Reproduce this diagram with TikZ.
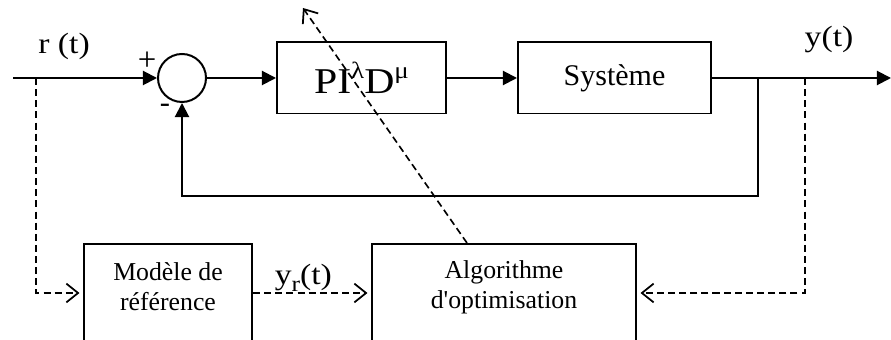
\documentclass[tikz,border=0pt]{standalone}
\usepackage{fontspec}
\setmainfont{Liberation Serif}
\newfontfamily\widefont[FakeStretch=1.15]{Liberation Serif}
\usetikzlibrary{arrows.meta,positioning}
\newcommand{\hi}[1]{\raisebox{0.42em}{\fontsize{20}{20}\selectfont #1}}
\newcommand{\lo}[1]{\raisebox{-0.22em}{\fontsize{19}{19}\selectfont #1}}

\begin{document}
\begin{tikzpicture}[
  blk/.style={draw,line width=1.7pt,minimum height=2.13cm,inner sep=2pt,align=center},
  bot/.style={draw,line width=1.7pt,minimum height=2.94cm,inner sep=0pt},
  sig/.style={line width=1.7pt,-{Triangle[length=12pt,width=12pt]}},
  dsh/.style={line width=1.4pt,dash pattern=on 6pt off 3.5pt,shorten >=3pt,-{Straight Barb[length=10pt,width=16pt,line width=1.5pt]}},
  lbl/.style={font=\widefont\fontsize{25}{29}\selectfont,inner sep=0pt},
  inl/.style={align=center,font=\fontsize{22}{25.6}\selectfont,yshift=0.18cm}]
\clip (0,0) rectangle (26.73,-10.2);
\node[draw,circle,line width=1.7pt,minimum size=1.44cm,inner sep=0pt] (sum) at (5.46,-2.34) {};
\node[blk,minimum width=5.07cm,font=\widefont\fontsize{31}{36}\selectfont] (pid) at (10.845,-2.34) {PI\hi{λ}D\hi{μ}};
\node[blk,minimum width=5.79cm,font=\fontsize{25.6}{30}\selectfont] (sys) at (18.435,-2.34) {Système};
\node[bot,minimum width=5.04cm,label={[inl]center:Modèle de\\référence}] (mod) at (5.04,-8.79) {};
\node[bot,minimum width=7.92cm,label={[inl]center:Algorithme\\d\textquotesingle optimisation}] (alg) at (15.12,-8.79) {};
\node[lbl] (rlab) at (1.92,-1.38) {r (t)};
\node[lbl] (ylab) at (24.87,-1.2) {y(t)};
\node[lbl] (yrlab) at (9.1,-8.34) {y\lo{r}(t)};
\node[font=\fontsize{28}{28}\selectfont,inner sep=0pt] (plus) at (4.41,-1.83) {+};
\node[font=\fontsize{26}{26}\selectfont,inner sep=0pt] (minus) at (4.95,-3.24) {-};
\coordinate (in) at (0.39,-2.34);
\coordinate (out) at (26.73,-2.34);
\coordinate (rb) at (1.08,-2.34);
\coordinate (yb) at (24.15,-2.34);
\coordinate (fb) at (22.74,-2.34);
\coordinate (fbl) at (5.46,-5.88);
\coordinate (tune) at (9.09,-0.24);
\draw[sig] (in) -- (sum.west);
\draw[sig] (sum.east) -- (pid.west);
\draw[sig] (pid.east) -- (sys.west);
\draw[sig] (sys.east) -- (out);
\draw[sig] (fb) |- (fbl) -- (sum.south);
\draw[dsh] (rb) |- (mod.west);
\draw[dsh] (mod.east) -- (alg.west);
\draw[dsh] (yb) |- (alg.east);
\draw[dsh,shorten >=0pt] ([xshift=2.88cm]alg.north west) -- (tune);
\end{tikzpicture}
\end{document}
